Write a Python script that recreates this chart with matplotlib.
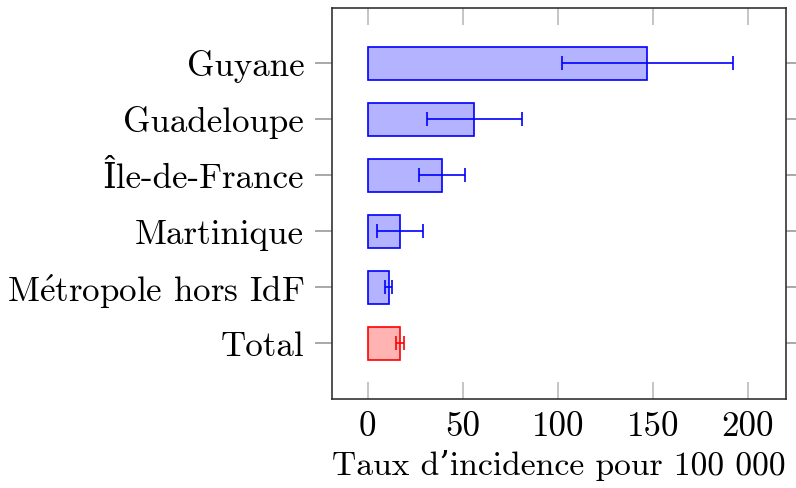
import matplotlib
matplotlib.use("Agg")
import matplotlib.pyplot as plt
import numpy as np

categories = ["Total", "M$\\acute{\\mathrm{e}}$tropole hors IdF", "Martinique", "Île-de-France", "Guadeloupe", "Guyane"]
values = [17, 11, 17, 39, 56, 147]
errors = [2, 2, 12, 12, 25, 45]
is_total = [True, False, False, False, False, False]
xticks = [0, 50, 100, 150, 200]
xlabel = "Taux d’incidence pour 100 000"

plt.rcParams['font.family'] = ['cmr10', 'DejaVu Serif']
plt.rcParams['mathtext.fontset'] = 'cm'
plt.rcParams['axes.formatter.use_mathtext'] = True
FS = 25.2

fig = plt.figure(figsize=(7.96, 4.88), dpi=100)
ax = fig.add_axes([332/796, 1-399.3/488, (785.7-332)/796, (399.3-7.5)/488])

y = np.arange(len(categories))
for yi, v, e, tot in zip(y, values, errors, is_total):
    fc = (1, 0.7, 0.7) if tot else (0.7, 0.7, 1)
    ec = 'red' if tot else 'blue'
    ax.barh(yi, v, height=0.58, color=fc, edgecolor=ec, linewidth=1.2, zorder=2)
    ax.errorbar(v, yi, xerr=e, fmt='none', ecolor=ec, elinewidth=1.2,
                capsize=4.7, capthick=1.2, zorder=3)

ax.set_xlim(-18.8, 220)
ax.set_ylim(-1, 6)
ax.set_yticks(y)
ax.set_yticklabels(categories, fontsize=FS)
ax.set_xticks(xticks)
ax.set_xticklabels([str(t) for t in xticks], fontsize=FS)
ax.set_xlabel(xlabel, fontsize=24.2, labelpad=5)

ax.tick_params(axis='x', direction='in', top=True, bottom=True, length=12,
               width=1.2, color='#bbbbbb', pad=9)
ax.tick_params(axis='y', direction='out', left=True, right=True, length=12,
               width=1.2, color='#999999', pad=8)
for s in ax.spines.values():
    s.set_color('#333333')
    s.set_linewidth(1.2)

fig.savefig("out.png", dpi=100)
